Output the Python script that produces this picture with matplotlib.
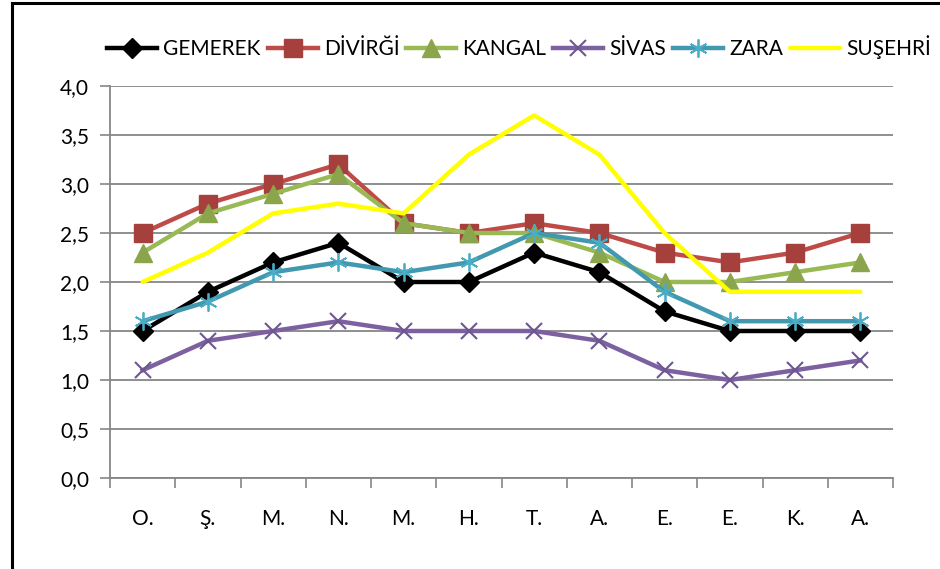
import matplotlib.pyplot as plt
from matplotlib.lines import Line2D
import numpy as np

plt.rcParams['font.family'] = ['Lato', 'DejaVu Sans']

months = ['O.', 'Ş.', 'M.', 'N.', 'M.', 'H.', 'T.', 'A.', 'E.', 'E.', 'K.', 'A.']
gemerek = [1.5, 1.9, 2.2, 2.4, 2.0, 2.0, 2.3, 2.1, 1.7, 1.5, 1.5, 1.5]
divrigi = [2.5, 2.8, 3.0, 3.2, 2.6, 2.5, 2.6, 2.5, 2.3, 2.2, 2.3, 2.5]
kangal = [2.3, 2.7, 2.9, 3.1, 2.6, 2.5, 2.5, 2.3, 2.0, 2.0, 2.1, 2.2]
sivas = [1.1, 1.4, 1.5, 1.6, 1.5, 1.5, 1.5, 1.4, 1.1, 1.0, 1.1, 1.2]
zara = [1.6, 1.8, 2.1, 2.2, 2.1, 2.2, 2.5, 2.4, 1.9, 1.6, 1.6, 1.6]
susehri = [2.0, 2.3, 2.7, 2.8, 2.7, 3.3, 3.7, 3.3, 2.5, 1.9, 1.9, 1.9]

fig = plt.figure(figsize=(9.4, 5.69), dpi=100)
ax = fig.add_axes([110/940, 1-478/569, 783/940, 392/569])

x = np.arange(len(months))
lw = 3.2
ax.plot(x, gemerek, color='black', lw=lw, marker='D', ms=10, mfc='black', mec='black', label='GEMEREK', zorder=3)
ax.plot(x, divrigi, color='#BE4B48', lw=lw, marker='s', ms=13, mfc='#A5403D', mec='#A5403D', label='DİVİRĞİ', zorder=3)
ax.plot(x, kangal, color='#98B954', lw=lw, marker='^', ms=13, mfc='#8AA54C', mec='#8AA54C', label='KANGAL', zorder=3)
ax.plot(x, sivas, color='#7D60A0', lw=lw, marker='x', ms=12, mew=1.5, mec='#6E5690', label='SİVAS', zorder=3)
ax.plot(x, zara, color='#4198AF', lw=lw, marker=(6, 2, 0), ms=13, mew=1.3, mec='#4BACC6', label='ZARA', zorder=3)
ax.plot(x, susehri, color='#FFFF00', lw=lw, label='SUŞEHRİ', zorder=3, solid_capstyle='round')

ax.set_xlim(-0.5, 11.5)
ax.set_ylim(0, 4.0)
yt = np.arange(0, 4.01, 0.5)
ax.set_yticks(yt)
ax.set_yticklabels([f'{v:.1f}'.replace('.', ',') for v in yt], fontsize=15)
ax.set_xticks(x)
ax.set_xticklabels(months, fontsize=15)
ax.set_xticks(np.arange(-0.5, 12, 1), minor=True)
ax.tick_params(axis='x', which='major', length=0, pad=22)
ax.tick_params(axis='x', which='minor', length=7, color='#868686', width=1.2)
ax.tick_params(axis='y', length=7, color='#868686', width=1.2, pad=8)
ax.grid(axis='y', color='#868686', lw=1.3)
ax.set_axisbelow(True)
for s in ['top', 'right']:
    ax.spines[s].set_visible(False)
for s in ['left', 'bottom']:
    ax.spines[s].set_color('#868686')
    ax.spines[s].set_linewidth(1.3)

fig.legend(loc='center left', bbox_to_anchor=(107/940, 1-47/569), ncol=6, frameon=False,
           fontsize=15, handlelength=2.4, handletextpad=0.3, columnspacing=0.33,
           borderpad=0, borderaxespad=0)

# chart frame (only top and left edges are visible in the crop)
fig.add_artist(Line2D([12/940, 12/940], [0, 1-3/569], transform=fig.transFigure, color='black', lw=2.2))
fig.add_artist(Line2D([12/940, 1], [1-3/569, 1-3/569], transform=fig.transFigure, color='black', lw=2.2))

fig.savefig('out.png', dpi=100)
